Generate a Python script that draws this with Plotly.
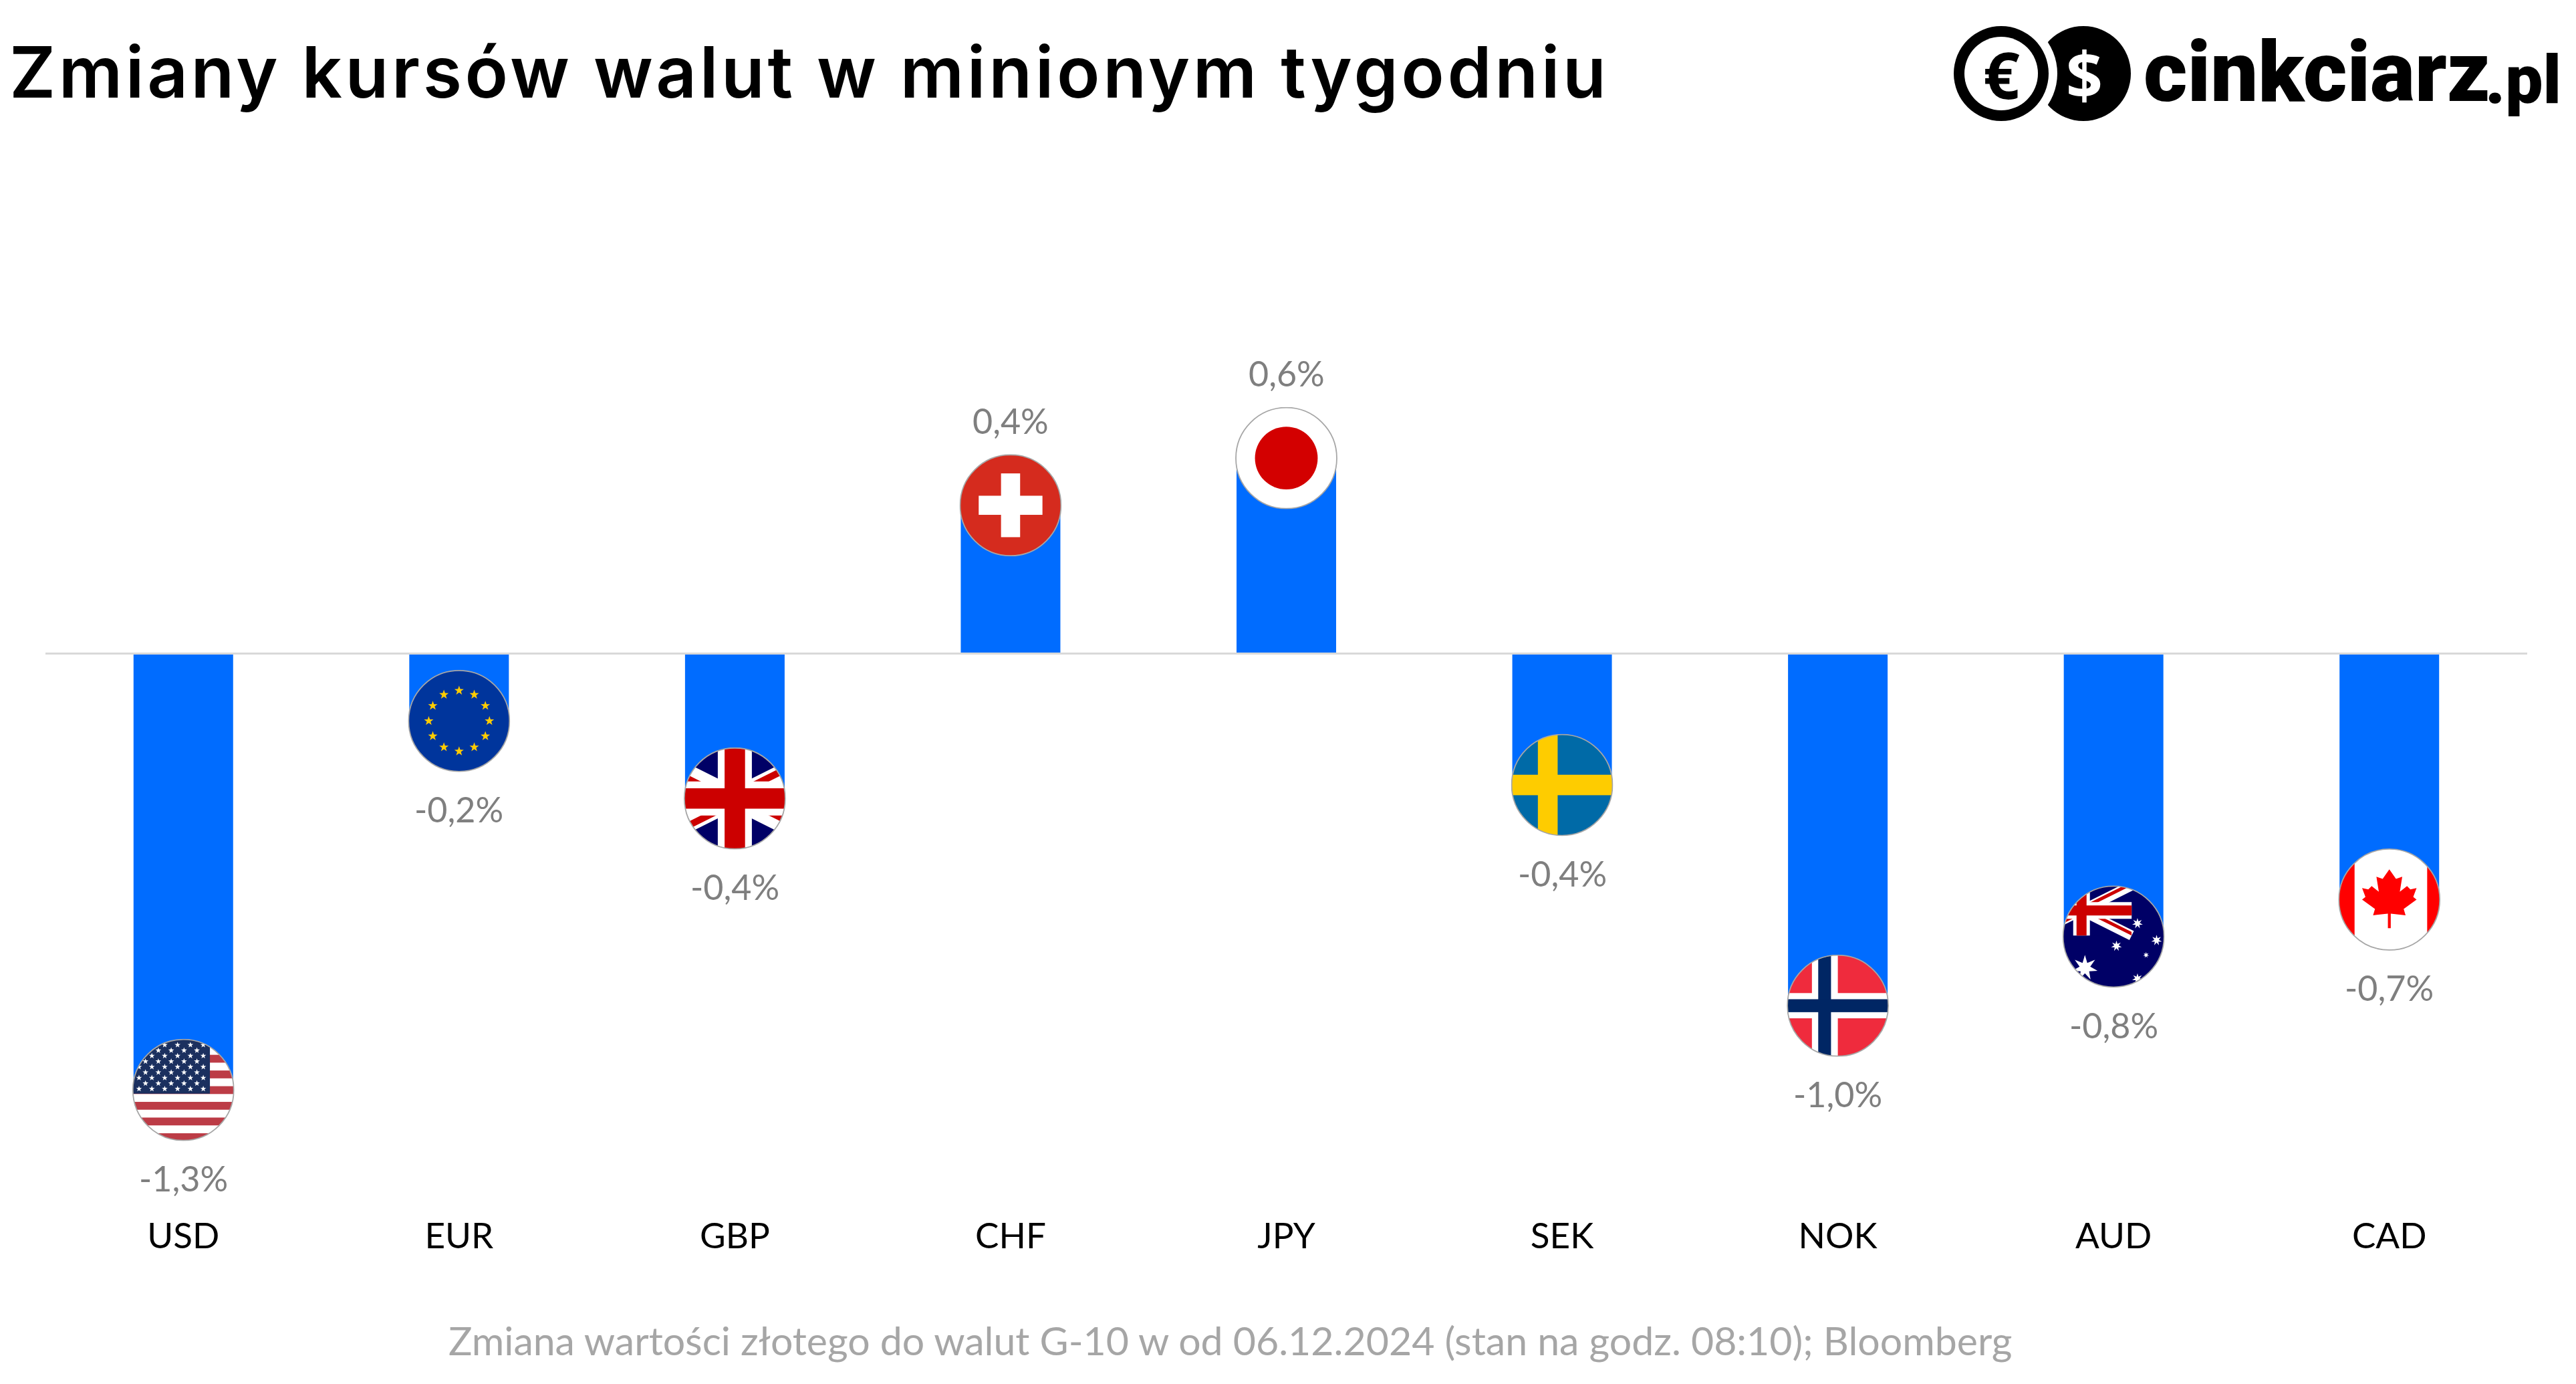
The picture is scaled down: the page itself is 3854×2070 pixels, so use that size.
import base64
import math
import plotly.graph_objects as go

currencies = ["USD", "EUR", "GBP", "CHF", "JPY", "SEK", "NOK", "AUD", "CAD"]
changes = [-1.295, -0.20, -0.43, 0.44, 0.58, -0.39, -1.045, -0.84, -0.73]
title_text = "Zmiany kursów walut w minionym tygodniu"
footer_text = "Zmiana wartości złotego do walut G-10 w od 06.12.2024 (stan na godz. 08:10); Bloomberg"

W, H = 3854, 2070
L, R, T, B = 68, 3781, 200, 1810
Y0 = 977.5
PX_PER_UNIT = 504.0
BAND = (R - L) / len(currencies)
FLAG_D = 153


def px(x):
    return (x - L) / (R - L)


def py(y):
    return (B - y) / (B - T)


def star(cx, cy, r, n=5, inner=0.4, fill="#fff"):
    pts = []
    for i in range(2 * n):
        rad = r if i % 2 == 0 else r * inner
        a = -math.pi / 2 + i * math.pi / n
        pts.append(f"{cx + rad * math.cos(a):.2f},{cy + rad * math.sin(a):.2f}")
    return f'<polygon points="{" ".join(pts)}" fill="{fill}"/>'


def union_jack(x, y, w, uid):
    s = w / 60
    return (
        f'<g transform="translate({x},{y}) scale({s})">'
        f'<clipPath id="{uid}"><path d="M30,15h30v15zv15h-30zh-30v-15zv-15h30z"/></clipPath>'
        '<rect width="60" height="30" fill="#006"/>'
        '<path d="M0,0L60,30M60,0L0,30" stroke="#fff" stroke-width="6"/>'
        f'<path d="M0,0L60,30M60,0L0,30" clip-path="url(#{uid})" stroke="#c00" stroke-width="4"/>'
        '<path d="M30,0v30M0,15h60" stroke="#fff" stroke-width="10"/>'
        '<path d="M30,0v30M0,15h60" stroke="#c00" stroke-width="6"/>'
        '</g>'
    )


def flag_usd():
    out = '<rect width="300" height="300" fill="#fff"/>'
    h = 23.0
    y = 139.0
    while y > -h:
        out += f'<rect x="0" y="{y}" width="300" height="{h}" fill="#bc3c46"/>'
        y -= 2 * h
    y = 139.0 + 2 * h
    while y < 300:
        out += f'<rect x="0" y="{y}" width="300" height="{h}" fill="#bc3c46"/>'
        y += 2 * h
    out += '<rect x="0" y="0" width="228" height="161" fill="#1b305f"/>'
    for r in range(9):
        cy = 18 + r * 16.1
        xs = [20 + c * 37.7 for c in range(6)] if r % 2 == 0 else [39 + c * 37.7 for c in range(5)]
        for cx in xs:
            out += star(cx, cy, 9)
    return out


def flag_eur():
    out = '<rect width="300" height="300" fill="#00359c"/>'
    for i in range(12):
        a = i * math.pi / 6
        out += star(150 + 89 * math.sin(a), 150 - 89 * math.cos(a), 14.5, fill="#ffcc00")
    return out


def flag_gbp():
    return union_jack(-150, 0, 600, "uk")


def flag_chf():
    return ('<rect width="300" height="300" fill="#d52b1e"/>'
            '<rect x="122" y="56.5" width="56" height="187" fill="#fff"/>'
            '<rect x="56.5" y="122" width="187" height="56" fill="#fff"/>')


def flag_jpy():
    return '<rect width="300" height="300" fill="#fff"/><circle cx="150" cy="150" r="92" fill="#d30000"/>'


def flag_sek():
    return ('<rect width="300" height="300" fill="#006aa7"/>'
            '<rect x="79" y="0" width="58" height="300" fill="#fecc00"/>'
            '<rect x="0" y="120" width="300" height="60" fill="#fecc00"/>')


def flag_nok():
    return ('<rect width="300" height="300" fill="#ef2b3d"/>'
            '<rect x="74" y="0" width="76" height="300" fill="#fff"/>'
            '<rect x="0" y="113" width="300" height="74" fill="#fff"/>'
            '<rect x="92.5" y="0" width="37.5" height="300" fill="#002664"/>'
            '<rect x="0" y="131" width="300" height="38" fill="#002664"/>')


def flag_aud():
    out = '<rect width="300" height="300" fill="#000066"/>'
    out += union_jack(-91, 0, 294, "au")
    for X, Y, r in [(850, 395, 16), (890, 470, 16), (806, 495, 16), (868, 535, 9), (850, 640, 16), (740, 592, 38)]:
        out += star((X - 693) / 214 * 300, (Y - 227) / 453 * 300, r, n=7, inner=0.42)
    return out


def flag_cad():
    half = [(0, 145), (-14, 188), (-27, 178), (-22, 245), (-37, 220), (-44, 235), (-57, 229),
            (-50, 268), (-57, 280), (-30, 322), (-34, 350), (-3, 343), (-3, 408)]
    pts = half + [(-x, y) for x, y in reversed(half)]
    s = " ".join(f"{150 + x * 300 / 214:.1f},{(y - 52) * 300 / 456:.1f}" for x, y in pts)
    return ('<rect width="300" height="300" fill="#fff"/>'
            '<rect x="0" y="0" width="48" height="300" fill="#f00"/>'
            '<rect x="261" y="0" width="39" height="300" fill="#f00"/>'
            f'<polygon points="{s}" fill="#f00"/>')


def flag_uri(body, uid):
    svg = ('<svg xmlns="http://www.w3.org/2000/svg" viewBox="0 0 300 300" width="600" height="600">'
           f'<defs><clipPath id="c{uid}"><circle cx="150" cy="150" r="148"/></clipPath></defs>'
           f'<g clip-path="url(#c{uid})">{body}</g>'
           '<circle cx="150" cy="150" r="148" fill="none" stroke="#a6a6a6" stroke-width="3.5"/></svg>')
    return "data:image/svg+xml;base64," + base64.b64encode(svg.encode()).decode()


flags = [flag_usd, flag_eur, flag_gbp, flag_chf, flag_jpy, flag_sek, flag_nok, flag_aud, flag_cad]

fig = go.Figure(go.Bar(x=currencies, y=changes, marker=dict(color="#006cff", line=dict(width=0)),
                       width=149 / BAND, hoverinfo="skip"))

images = []
annotations = []
for cur, val, flag in zip(currencies, changes, flags):
    images.append(dict(source=flag_uri(flag(), cur), xref="x", yref="y", x=cur, y=val,
                       sizex=FLAG_D / BAND, sizey=FLAG_D / PX_PER_UNIT, xanchor="center", yanchor="middle",
                       sizing="stretch", layer="above"))
    label = f"{val:.1f}".replace(".", ",") + "%"
    annotations.append(dict(xref="x", yref="y", x=cur, y=val, text=label, showarrow=False,
                            yshift=127 if val > 0 else -132, xanchor="center", yanchor="middle",
                            font=dict(family="Lato, sans-serif", size=52, color="#7f7f7f")))

annotations.append(dict(xref="paper", yref="paper", x=px(12), y=py(108), text=title_text, showarrow=False,
                        xanchor="left", yanchor="middle",
                        font=dict(family="Inter, sans-serif", size=106, color="#000", weight=600)))
annotations.append(dict(xref="paper", yref="paper", x=px(669), y=py(2004), text=footer_text, showarrow=False,
                        xanchor="left", yanchor="middle",
                        font=dict(family="Lato, sans-serif", size=59, color="#a6a6a6")))
annotations.append(dict(xref="paper", yref="paper", x=px(2994), y=py(110), text="€", showarrow=False,
                        xanchor="center", yanchor="middle",
                        font=dict(family="Open Sans, sans-serif", size=96, color="#000", weight=700)))
annotations.append(dict(xref="paper", yref="paper", x=px(3118), y=py(110), text="$", showarrow=False,
                        xanchor="center", yanchor="middle",
                        font=dict(family="Open Sans, sans-serif", size=96, color="#fff", weight=700)))
annotations.append(dict(xref="paper", yref="paper", x=px(3205), y=py(108), text="cinkciarz", showarrow=False,
                        xanchor="left", yanchor="middle",
                        font=dict(family="Roboto, sans-serif", size=126, color="#000", weight=900)))
annotations.append(dict(xref="paper", yref="paper", x=px(3716), y=py(120), text=".pl", showarrow=False,
                        xanchor="left", yanchor="middle",
                        font=dict(family="Roboto, sans-serif", size=100, color="#000", weight=900)))


def circle(cx, cy, r, color):
    return dict(type="circle", xref="paper", yref="paper", x0=px(cx - r), x1=px(cx + r),
                y0=py(cy - r), y1=py(cy + r), fillcolor=color, line=dict(width=0), layer="above")


shapes = [
    dict(type="line", xref="paper", yref="y", x0=0, x1=1, y0=0, y1=0,
         line=dict(color="#d9d9d9", width=3), layer="above"),
    circle(3117, 110, 71, "#000"),
    circle(2994, 110, 84, "#fff"),
    circle(2994, 110, 71, "#000"),
    circle(2994, 110, 55, "#fff"),
]

fig.update_layout(
    width=W, height=H, autosize=False,
    margin=dict(l=L, r=W - R, t=T, b=H - B, pad=0, autoexpand=False),
    paper_bgcolor="#fff", plot_bgcolor="#fff",
    showlegend=False, images=images, annotations=annotations, shapes=shapes,
    xaxis=dict(type="category", categoryorder="array", categoryarray=currencies, showline=False,
               showgrid=False, ticks="", ticklabelstandoff=3,
               tickfont=dict(family="Lato, sans-serif", size=53, color="#000")),
    yaxis=dict(range=[-(B - Y0) / PX_PER_UNIT, (Y0 - T) / PX_PER_UNIT], visible=False,
               showgrid=False, zeroline=False),
)

post = """
document.body.style.margin = '0';
document.querySelectorAll('.annotation-text').forEach(function (t) {
  if (t.textContent.indexOf('Zmiany kurs') === 0) {
    var spacing = 4.6;
    t.style.letterSpacing = spacing + 'px';
    t.setAttribute('transform', 'translate(' + (spacing * t.textContent.length / 2) + ',0)');
  }
});
"""
fig.write_html("out.html", config={"displayModeBar": False}, post_script=post)
